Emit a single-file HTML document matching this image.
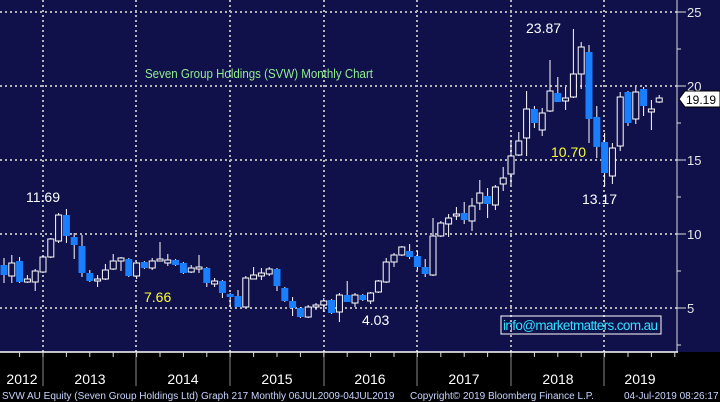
<!DOCTYPE html>
<html><head><meta charset="utf-8"><style>
body{margin:0;background:#000;}
svg{display:block;font-family:"Liberation Sans",sans-serif;}
</style></head><body>
<svg id="s" width="720" height="402" xmlns="http://www.w3.org/2000/svg">
<rect x="0" y="0" width="720" height="352" fill="#10104a"/>
<rect x="0" y="352" width="720" height="50" fill="#000"/>
<g stroke="#b4b4b4" stroke-width="2" stroke-dasharray="2,3" fill="none">
<line x1="0" y1="12" x2="677" y2="12"/><line x1="0" y1="86" x2="677" y2="86"/>
<line x1="0" y1="160" x2="677" y2="160"/><line x1="0" y1="234" x2="677" y2="234"/>
<line x1="0" y1="308" x2="677" y2="308"/>
<line x1="43" y1="0" x2="43" y2="352"/><line x1="136" y1="0" x2="136" y2="352"/>
<line x1="230" y1="0" x2="230" y2="352"/><line x1="324" y1="0" x2="324" y2="352"/>
<line x1="417" y1="0" x2="417" y2="352"/><line x1="511" y1="0" x2="511" y2="352"/>
<line x1="604" y1="0" x2="604" y2="352"/>
</g>
<g id="c"></g>
<line x1="677" y1="0" x2="677" y2="352" stroke="#ddd" stroke-width="1"/>
<line x1="0" y1="352" x2="678" y2="352" stroke="#fff" stroke-width="1.5"/>
<g stroke="#ddd" stroke-width="1">
<line x1="677" y1="12" x2="686" y2="12"/><line x1="677" y1="86" x2="686" y2="86"/>
<line x1="677" y1="160" x2="686" y2="160"/><line x1="677" y1="234" x2="686" y2="234"/>
<line x1="677" y1="308" x2="686" y2="308"/>
<line x1="677" y1="49" x2="681" y2="49"/><line x1="677" y1="123" x2="681" y2="123"/>
<line x1="677" y1="197" x2="681" y2="197"/><line x1="677" y1="271" x2="681" y2="271"/>
<line x1="677" y1="345" x2="681" y2="345"/>
</g>
<g fill="#e8e8e8" font-size="13">
<text x="687" y="17">25</text><text x="687" y="91">20</text><text x="687" y="165">15</text>
<text x="687" y="239">10</text><text x="687" y="313">5</text>
</g>
<path d="M679,99 L685,91 L720,91 L720,107 L685,107 Z" fill="#fff" stroke="#000"/>
<text x="686" y="104" font-size="12" fill="#000">19.19</text>
<g stroke="#888" stroke-width="1">
<line x1="43" y1="352" x2="43" y2="386"/><line x1="136" y1="352" x2="136" y2="386"/>
<line x1="230" y1="352" x2="230" y2="386"/><line x1="324" y1="352" x2="324" y2="386"/>
<line x1="417" y1="352" x2="417" y2="386"/><line x1="511" y1="352" x2="511" y2="386"/>
<line x1="604" y1="352" x2="604" y2="386"/>
</g>
<g id="t" stroke="#ddd" stroke-width="1"></g>
<g fill="#fff" font-size="14" text-anchor="middle">
<text x="22" y="384">2012</text><text x="90" y="384">2013</text><text x="183" y="384">2014</text>
<text x="277" y="384">2015</text><text x="370" y="384">2016</text><text x="464" y="384">2017</text>
<text x="558" y="384">2018</text><text x="640" y="384">2019</text>
</g>
<g font-size="10" fill="#c8d4ff">
<text x="2" y="399">SVW AU Equity (Seven Group Holdings Ltd) Graph 217  Monthly 06JUL2009-04JUL2019</text>
<text x="410" y="399">Copyright© 2019 Bloomberg Finance L.P.</text>
<text x="624" y="399">04-Jul-2019 08:26:17</text>
</g>
<text x="145" y="78" font-size="13" fill="#90ee90" textLength="228" lengthAdjust="spacingAndGlyphs">Seven Group Holdings (SVW) Monthly Chart</text>
<g font-size="14">
<text x="26" y="202" fill="#fff">11.69</text>
<text x="144" y="302" fill="#ffff33">7.66</text>
<text x="362" y="325" fill="#fff">4.03</text>
<text x="526" y="33" fill="#fff">23.87</text>
<text x="551" y="157" fill="#ffff33">10.70</text>
<text x="582" y="204" fill="#fff">13.17</text>
</g>
<rect x="501" y="316" width="160" height="18" fill="none" stroke="#fff" stroke-width="1"/>
<text x="503" y="330" font-size="13.5" fill="#33e0ff" textLength="155">info@marketmatters.com.au</text>
</svg>
<script>
var d=[
[-6,'w',262,272,258,280],[-5,'b',265,275,258,283],[-4,'w',263,276,255,283],[-3,'b',261,282,257,283],
[-2,'w',279,282,275,283],[-1,'w',271,282,269,291],[0,'w',257,272,256,273],[1,'w',239,257,238,258],
[2,'w',215,241,213,243],[3,'b',215,236,209,243],[4,'b',237,245,233,259],[5,'b',246,273,235,277],
[6,'b',273,281,270,282],[7,'w',279,281,275,287],[8,'w',270,279,264,280],[9,'w',261,269,254,270],
[10,'w',258,261,257,271],[11,'b',259,276,258,277],[12,'w',263,276,262,279],[13,'b',262,268,261,269],
[14,'w',261,268,258,270],[15,'w',259,261,242,261],[16,'w',260,263,254,266],[17,'b',260,265,259,266],
[18,'b',263,273,262,274],[19,'w',268,272,265,273],[20,'w',267,269,255,273],[21,'b',268,283,267,287],
[22,'w',281,284,278,287],[23,'b',281,293,280,298],[24,'b',294,297,293,307],[25,'b',296,307,290,307],
[26,'w',278,307,276,307],[27,'w',275,279,267,279],[28,'w',273,276,268,280],[29,'w',269,274,267,276],
[30,'b',269,286,268,291],[31,'b',288,301,287,302],[32,'b',301,308,297,316],[33,'b',308,317,307,318],
[34,'w',307,317,305,318],[35,'w',305,307,303,310],[36,'w',301,305,298,312],[37,'b',300,313,299,314],
[38,'w',295,312,293,322],[39,'b',295,302,281,302],[40,'w',295,303,293,307],[41,'b',295,300,294,301],
[42,'w',293,301,292,304],[43,'w',281,292,280,293],[44,'w',262,282,258,283],[45,'w',255,262,253,267],
[46,'w',247,255,246,256],[47,'b',251,257,244,259],[48,'b',256,267,251,270],[49,'b',267,274,259,277],
[50,'w',236,275,218,276],[51,'w',223,236,221,237],[52,'w',218,224,214,237],[53,'w',214,216,207,220],
[54,'b',213,220,202,224],[55,'w',206,221,198,231],[56,'w',193,203,180,210],[57,'b',196,204,188,218],
[58,'w',187,205,185,210],[59,'w',178,184,167,191],[60,'w',156,174,141,185],[61,'w',141,155,132,156],
[62,'w',109,138,91,156],[63,'b',109,123,106,128],[64,'w',113,130,108,136],[65,'w',91,111,60,112],
[66,'b',93,102,77,102],[67,'w',98,101,87,110],[68,'w',74,97,29,98],[69,'w',47,74,42,89],
[70,'b',52,119,45,143],[71,'b',117,147,106,158],[72,'b',142,173,133,187],[73,'w',148,176,143,184],
[74,'w',97,146,92,151],[75,'b',92,123,91,126],[76,'w',92,119,87,124],[77,'b',89,106,87,116],
[78,'w',109,112,100,130],[79,'w',98,102,95,103]];
var g=document.getElementById('c'),h='';
d.forEach(function(c){var x=43+c[0]*7.8;
h+='<line x1="'+x+'" y1="'+c[4]+'" x2="'+x+'" y2="'+c[5]+'" stroke="#fff" stroke-width="1"/>';
if(c[1]=='b')h+='<rect x="'+(x-3.5)+'" y="'+c[2]+'" width="7" height="'+Math.max(1,c[3]-c[2])+'" fill="#1a7fff"/>';
else h+='<rect x="'+(x-3)+'" y="'+c[2]+'" width="6" height="'+Math.max(1,c[3]-c[2])+'" fill="#10104a" stroke="#fff" stroke-width="1"/>';});
g.innerHTML=h;
var t='';for(var m=-6;m<=81;m+=3){var x=43+m*7.8;if(x>0&&x<677)t+='<line x1="'+x+'" y1="352" x2="'+x+'" y2="357"/>';}
document.getElementById('t').innerHTML=t;
</script>
</body></html>
